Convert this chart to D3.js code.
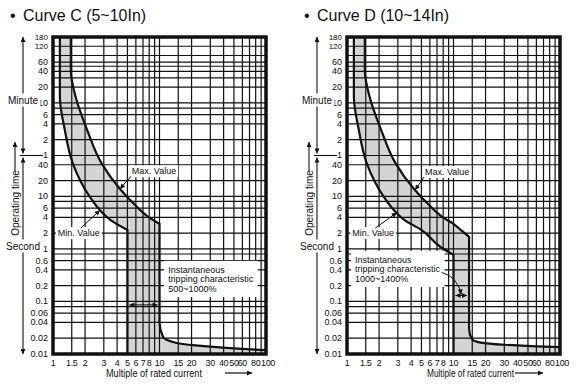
<!DOCTYPE html>
<html>
<head>
<meta charset="utf-8">
<script src="https://cdn.jsdelivr.net/npm/d3@7"></script>
<style>
body { margin: 0; background: #fff; }
svg text { font-family: "Liberation Sans", Arial, Helvetica, sans-serif; fill: #111; }
</style>
</head>
<body>
<script>
// x = multiple of rated current, t = operating time in seconds
var xTicks = [1, 1.5, 2, 3, 4, 5, 6, 7, 8, 10, 15, 20, 30, 40, 50, 60, 80, 100];
var xGrid = [1.5, 2, 3, 4, 5, 6, 7, 8, 9, 10, 15, 20, 30, 40, 50, 60, 70, 80, 90];
var yTickMinutes = [180, 120, 60, 40, 20, 10, 6, 4, 2, 1];
var yTickSeconds = [40, 20, 10, 6, 4, 2, 1, 0.6, 0.4, 0.2, 0.1, 0.06, 0.04, 0.02, 0.01];
var yGridMinutes = [120, 80, 60, 50, 40, 30, 20, 10, 8, 6, 4, 2, 1];
var yGridSeconds = [40, 20, 10, 8, 6, 4, 2, 1, 0.8, 0.6, 0.4, 0.2, 0.1, 0.08, 0.06, 0.04, 0.02];

// thermal (overload) band, same for both curves
var thermalMin = [[1.16, 10800], [1.16, 800], [1.29, 185], [1.53, 43], [2.2, 10], [2.75, 5.5], [3.5, 3.5], [5, 2.3], [7.5, 1.1], [10, 0.77]];
var thermalMax = [[1.47, 10800], [1.47, 2500], [1.63, 785], [2.09, 185], [2.85, 43], [4.24, 14], [5.65, 7.5], [8.1, 3.9], [10, 3.0], [12, 2.2], [14, 1.7]];

// magnetic (instantaneous) tail of the max curve
var tailC = [[10, 0.04], [10.8, 0.021], [14.5, 0.0162], [30, 0.0138], [60, 0.0125], [100, 0.0118]];
var tailD = [[14, 0.03], [15, 0.019], [18, 0.0165], [30, 0.015], [60, 0.014], [100, 0.0135]];

var charts = [
  { title: "Curve C (5~10In)", dx: 0, instMin: 5, instMax: 10, tail: tailC,
    instText: ["Instantaneous", "tripping characteristic", "500~1000%"],
    instAt: [12.05, 0.4], arrowT: 0.086, leader: false,
    maxAt: [5.5, 30], maxTip: 4.26, minAt: [1.11, 2], minTip: 2.76,
    xTitleX: 106, xTitleW: 96, xArrow: [225, 252] },
  { title: "Curve D (10~14In)", dx: 294, instMin: 10, instMax: 14, tail: tailD,
    instText: ["Instantaneous", "tripping characteristic", "1000~1400%"],
    instAt: [1.19, 0.62], arrowT: 0.13, leader: true,
    maxAt: [5.4, 29], maxTip: 4.36, minAt: [1.12, 2], minTip: 2.93,
    xTitleX: 133, xTitleW: 87, xArrow: [221, 249] }
];

var X0 = 53, PW = 213, Y0 = 37, PH = 317;

var svg = d3.select("body").append("svg")
    .attr("width", 582)
    .attr("height", 391);

var defs = svg.append("defs");
defs.append("marker")
    .attr("id", "ah")
    .attr("viewBox", "0 0 10 10")
    .attr("refX", 10).attr("refY", 5)
    .attr("markerWidth", 6).attr("markerHeight", 5)
    .attr("markerUnits", "userSpaceOnUse")
    .attr("orient", "auto-start-reverse")
  .append("path")
    .attr("d", "M0,0L10,5L0,10Z")
    .attr("fill", "#111");

// log-log interpolation along a curve
function curveT(pts, xv) {
    for (var i = 1; i < pts.length; i++) {
        var a = pts[i - 1], b = pts[i];
        if (xv >= a[0] && xv <= b[0] && b[0] > a[0]) {
            var f = (Math.log(xv) - Math.log(a[0])) / (Math.log(b[0]) - Math.log(a[0]));
            return Math.exp(Math.log(a[1]) + f * (Math.log(b[1]) - Math.log(a[1])));
        }
    }
    return pts[pts.length - 1][1];
}

function boxedText(g, tx, ty, str, size, anchor) {
    var t = g.append("text")
        .attr("x", tx).attr("y", ty)
        .attr("font-size", size)
        .attr("text-anchor", anchor || "start")
        .attr("dominant-baseline", "central")
        .text(str);
    var bb = t.node().getBBox();
    g.insert("rect", function () { return t.node(); })
        .attr("x", bb.x - 2).attr("y", bb.y - 1)
        .attr("width", bb.width + 4).attr("height", bb.height + 2)
        .attr("fill", "#fff");
    return bb;
}

function drawChart(c) {
    var g = svg.append("g").attr("transform", "translate(" + c.dx + ",0)");
    var x = d3.scaleLog().domain([1, 100]).range([X0, X0 + PW]);
    var y = d3.scaleLog().domain([0.01, 10800]).range([Y0 + PH, Y0]);
    var line = d3.line().x(function (d) { return x(d[0]); }).y(function (d) { return y(d[1]); })
        .curve(d3.curveMonotoneY);

    // title
    g.append("text").attr("x", 10).attr("y", 21).attr("font-size", 16).text("\u2022");
    g.append("text").attr("x", 23).attr("y", 21).attr("font-size", 16).text(c.title);

    var minPts = thermalMin.filter(function (d) { return d[0] <= c.instMin; });
    var maxPts = thermalMax.filter(function (d) { return d[0] <= c.instMax; });
    var lastMax = maxPts[maxPts.length - 1];
    var maxD = line(maxPts) + line([lastMax].concat(c.tail)).replace(/^M/, "L");
    var minD = line(minPts) + "L" + x(c.instMin) + "," + y(0.01);
    var fillD = maxD + "L" + x(100) + "," + y(0.01) + "L" + x(c.instMin) + "," + y(0.01) +
        line(minPts.slice().reverse()).replace(/^M/, "L") + "Z";

    g.append("path").attr("d", fillD).attr("fill", "#d4d4d4");

    // grid
    var hs = yGridMinutes.map(function (m) { return m * 60; }).concat(yGridSeconds);
    g.selectAll(".hg").data(hs).enter().append("line")
        .attr("x1", X0).attr("x2", X0 + PW)
        .attr("y1", function (d) { return y(d); }).attr("y2", function (d) { return y(d); })
        .attr("stroke", "#111").attr("stroke-width", 1.2);
    g.selectAll(".vg").data(xGrid).enter().append("line")
        .attr("x1", function (d) { return x(d); }).attr("x2", function (d) { return x(d); })
        .attr("y1", Y0).attr("y2", Y0 + PH)
        .attr("stroke", "#111").attr("stroke-width", 1.2);

    // curves
    g.append("path").attr("d", maxD).attr("fill", "none").attr("stroke", "#111").attr("stroke-width", 2.2);
    g.append("path").attr("d", minD).attr("fill", "none").attr("stroke", "#111").attr("stroke-width", 2.2);

    // frame
    g.append("rect").attr("x", X0).attr("y", Y0).attr("width", PW).attr("height", PH)
        .attr("fill", "none").attr("stroke", "#111").attr("stroke-width", 3.5);

    // y tick labels
    yTickMinutes.forEach(function (m) {
        g.append("text").attr("x", X0 - 5).attr("y", y(m * 60))
            .attr("font-size", m >= 120 ? 8 : 9)
            .attr("text-anchor", "end").attr("dominant-baseline", "central").text(m);
    });
    yTickSeconds.forEach(function (s) {
        g.append("text").attr("x", X0 - 5).attr("y", y(s))
            .attr("font-size", 9)
            .attr("text-anchor", "end").attr("dominant-baseline", "central").text(s);
    });

    // x tick labels
    g.selectAll(".xl").data(xTicks).enter().append("text")
        .attr("x", function (d) { return x(d) + (d === 100 ? 2 : 0); }).attr("y", Y0 + PH + 9)
        .attr("font-size", 9).attr("letter-spacing", -0.3)
        .attr("text-anchor", "middle").attr("dominant-baseline", "central")
        .text(function (d) { return d; });

    // x title
    g.append("text").attr("x", c.xTitleX).attr("y", 373)
        .attr("font-size", 10).attr("dominant-baseline", "central")
        .attr("textLength", c.xTitleW).attr("lengthAdjust", "spacingAndGlyphs")
        .text("Multiple of rated current");
    g.append("line").attr("x1", c.xArrow[0]).attr("x2", c.xArrow[1]).attr("y1", 373).attr("y2", 373)
        .attr("stroke", "#111").attr("stroke-width", 1.2).attr("marker-end", "url(#ah)");

    // y brackets
    var bx = 23, y1m = y(60);
    g.append("line").attr("x1", bx).attr("x2", bx).attr("y1", y1m - 2).attr("y2", Y0)
        .attr("stroke", "#111").attr("stroke-width", 1.1)
        .attr("marker-start", "url(#ah)").attr("marker-end", "url(#ah)");
    g.append("line").attr("x1", bx).attr("x2", bx).attr("y1", y1m + 2).attr("y2", Y0 + PH)
        .attr("stroke", "#111").attr("stroke-width", 1.1)
        .attr("marker-start", "url(#ah)").attr("marker-end", "url(#ah)");
    g.append("line").attr("x1", 20).attr("x2", X0 - 10).attr("y1", y1m).attr("y2", y1m)
        .attr("stroke", "#111").attr("stroke-width", 1.1);
    boxedText(g, bx, 100, "Minute", 10, "middle");
    boxedText(g, bx, 246, "Second", 10, "middle");
    g.append("text").attr("transform", "translate(15,203) rotate(-90)")
        .attr("font-size", 10).attr("text-anchor", "middle").attr("dominant-baseline", "central")
        .text("Operating time");
    g.append("line").attr("x1", 15).attr("x2", 15).attr("y1", 171).attr("y2", 142)
        .attr("stroke", "#111").attr("stroke-width", 1.1).attr("marker-end", "url(#ah)");

    // Max / Min labels with pointers
    var mb = boxedText(g, x(c.maxAt[0]), y(c.maxAt[1]), "Max. Value", 9);
    var tipMax = [x(c.maxTip), y(curveT(thermalMax, c.maxTip))];
    g.append("line").attr("x1", mb.x - 1).attr("y1", mb.y + mb.height)
        .attr("x2", tipMax[0]).attr("y2", tipMax[1])
        .attr("stroke", "#111").attr("stroke-width", 1).attr("marker-end", "url(#ah)");
    var nb = boxedText(g, x(c.minAt[0]), y(c.minAt[1]), "Min. Value", 9);
    var tipMin = [x(c.minTip), y(curveT(thermalMin, c.minTip))];
    g.append("line").attr("x1", nb.x + nb.width * 0.55).attr("y1", nb.y)
        .attr("x2", tipMin[0]).attr("y2", tipMin[1])
        .attr("stroke", "#111").attr("stroke-width", 1).attr("marker-end", "url(#ah)");

    // instantaneous label
    var ix = x(c.instAt[0]), iy = y(c.instAt[1]);
    var tg = g.append("g");
    tg.selectAll("text").data(c.instText).enter().append("text")
        .attr("x", ix).attr("y", function (d, i) { return iy + i * 9.6; })
        .attr("font-size", 9).attr("dominant-baseline", "central")
        .text(function (d) { return d; });
    var ib = tg.node().getBBox();
    tg.insert("rect", "text")
        .attr("x", ib.x - 4).attr("y", ib.y - 4)
        .attr("width", ib.width + 8).attr("height", ib.height + 7)
        .attr("fill", "#fff");

    // width arrow between instantaneous limits
    var ay = y(c.arrowT);
    g.append("line").attr("x1", x(c.instMin) + 2).attr("x2", x(c.instMax) - 2)
        .attr("y1", ay).attr("y2", ay)
        .attr("stroke", "#111").attr("stroke-width", 1)
        .attr("marker-start", "url(#ah)").attr("marker-end", "url(#ah)");

    if (c.leader) {
        var sx = ib.x + ib.width + 1, sy = iy + 9.6 + 3;
        var ex = x(Math.sqrt(c.instMin * c.instMax)), ey = ay - 1;
        g.append("path")
            .attr("d", "M" + sx + "," + sy + "Q" + (ex - 4) + "," + (sy + 4) + " " + ex + "," + ey)
            .attr("fill", "none").attr("stroke", "#111").attr("stroke-width", 1)
            .attr("marker-end", "url(#ah)");
    }
}

charts.forEach(drawChart);
</script>
</body>
</html>
